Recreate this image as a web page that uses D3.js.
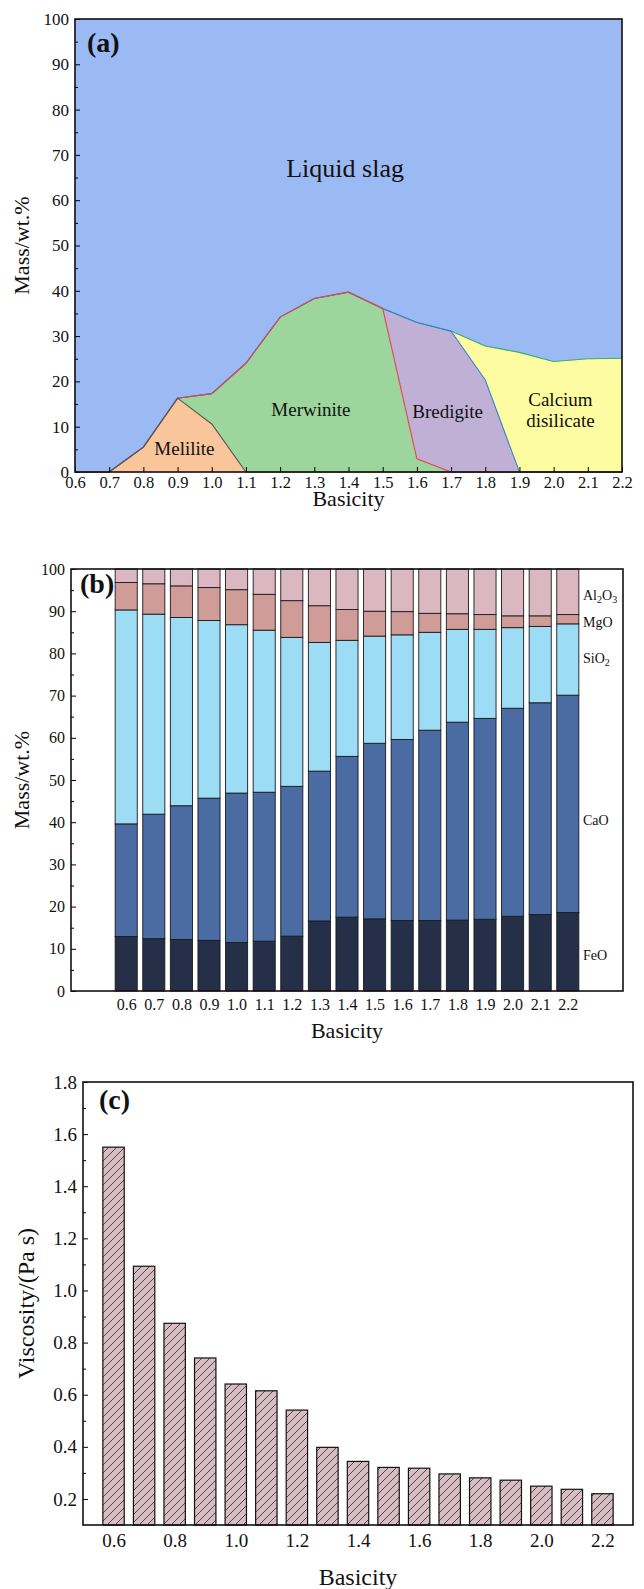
<!DOCTYPE html>
<html>
<head>
<meta charset="utf-8">
<script src="https://cdn.jsdelivr.net/npm/d3@7"></script>
<style>
  body { margin: 0; background: #fff; }
  svg { display: block; }
  svg text { font-family: "Liberation Serif", "Times New Roman", serif; }
</style>
</head>
<body>
<svg id="chart"></svg>
<script>
// ---- data ----
const basicity = [0.6, 0.7, 0.8, 0.9, 1.0, 1.1, 1.2, 1.3, 1.4, 1.5, 1.6, 1.7, 1.8, 1.9, 2.0, 2.1, 2.2];

// (a) phase amounts, wt.%
const melilite     = [0, 0, 5.5, 16.3, 10.6, 0, 0, 0, 0, 0, 0, 0, 0, 0, 0, 0, 0];
const merwinite    = [0, 0, 0, 0, 6.7, 24.0, 34.2, 38.3, 39.7, 36.1, 2.9, 0, 0, 0, 0, 0, 0];
const bredigite    = [0, 0, 0, 0, 0, 0, 0, 0, 0, 0, 30.1, 31.1, 20.3, 0, 0, 0, 0];
const caDisilicate = [0, 0, 0, 0, 0, 0, 0, 0, 0, 0, 0, 0, 7.5, 26.4, 24.4, 25.0, 25.1];
const liquidSlag   = [100, 100, 94.5, 83.7, 82.7, 76.0, 65.8, 61.7, 60.3, 63.9, 67.0, 68.9, 72.2, 73.6, 75.6, 75.0, 74.9];

// (b) liquid slag composition, wt.%
const feo   = [12.9, 12.4, 12.2, 12.0, 11.5, 11.8, 13.0, 16.6, 17.5, 17.1, 16.7, 16.7, 16.8, 17.0, 17.7, 18.1, 18.6];
const cao   = [26.7, 29.5, 31.7, 33.7, 35.4, 35.3, 35.5, 35.5, 38.1, 41.6, 42.9, 45.1, 46.9, 47.6, 49.3, 50.2, 51.5];
const sio2  = [50.7, 47.4, 44.6, 42.1, 39.9, 38.4, 35.3, 30.5, 27.5, 25.4, 24.8, 23.2, 22.0, 21.1, 19.1, 18.1, 16.9];
const mgo   = [6.5, 7.2, 7.5, 7.8, 8.3, 8.5, 8.7, 8.7, 7.3, 5.9, 5.5, 4.5, 3.7, 3.5, 2.8, 2.5, 2.2];
const al2o3 = [3.2, 3.5, 4.0, 4.4, 4.9, 6.0, 7.5, 8.7, 9.6, 10.0, 10.1, 10.5, 10.6, 10.8, 11.1, 11.1, 10.8];

// (c) viscosity, Pa s
const viscosity = [1.55, 1.093, 0.874, 0.741, 0.641, 0.615, 0.541, 0.398, 0.344, 0.321, 0.318, 0.296, 0.281, 0.272, 0.249, 0.237, 0.220];

const yTicksMass = [0, 10, 20, 30, 40, 50, 60, 70, 80, 90, 100];
const yTicksVisc = [0.2, 0.4, 0.6, 0.8, 1.0, 1.2, 1.4, 1.6, 1.8];
const xTicksVisc = [0.6, 0.8, 1.0, 1.2, 1.4, 1.6, 1.8, 2.0, 2.2];

const W = 644, H = 1589;
const SERIF = '"Liberation Serif", "Times New Roman", serif';
const svg = d3.select('#chart').attr('width', W).attr('height', H);
const fmt1 = d3.format('.1f');

function styleAxis(g, fontSize) {
    g.attr('font-family', SERIF).attr('font-size', fontSize);
    g.select('.domain').remove();
    g.selectAll('text').attr('font-size', fontSize).attr('fill', '#111');
}

function inwardLeftTicks(g, y, major, minor, fontSize, formatter) {
    g.call(d3.axisLeft(y).tickValues(major).tickSize(-5).tickPadding(6).tickFormat(formatter))
        .call(a => styleAxis(a, fontSize));
    g.append('g')
        .call(d3.axisLeft(y).tickValues(minor).tickSize(-3).tickFormat(''))
        .call(a => a.select('.domain').remove());
}

// ================= (a) stacked area phase diagram =================
function drawPhases() {
    const m = { left: 75, right: 622, top: 19, bottom: 472 };
    const x = d3.scaleLinear().domain([0.6, 2.2]).range([m.left, m.right]);
    const y = d3.scaleLinear().domain([0, 100]).range([m.bottom, m.top]);

    const keys = ['melilite', 'merwinite', 'bredigite', 'caDisilicate', 'liquid'];
    const rows = basicity.map((b, i) => ({
        b: b, melilite: melilite[i], merwinite: merwinite[i], bredigite: bredigite[i],
        caDisilicate: caDisilicate[i], liquid: liquidSlag[i]
    }));
    const fills = { melilite: '#f9c59b', merwinite: '#9dd69c', bredigite: '#c1b0d6', caDisilicate: '#fdfca0', liquid: '#9bb9f2' };
    const edges = { melilite: '#555555', merwinite: '#e8434c', bredigite: '#2f7fdc', caDisilicate: '#3aae6c' };

    const series = d3.stack().keys(keys)(rows);
    const g = svg.append('g');

    const area = d3.area().x(d => x(d.data.b)).y0(d => y(d[0])).y1(d => y(d[1]));
    g.selectAll('.phase')
        .data(series)
        .join('path')
            .attr('class', 'phase')
            .attr('d', area)
            .attr('fill', d => fills[d.key])
            .attr('stroke', d => fills[d.key])
            .attr('stroke-width', 0.5);

    // boundary lines, drawn last series first
    const line = d3.line().x(d => x(d.data.b)).y(d => y(d[1]));
    g.selectAll('.edge')
        .data(series.filter(s => edges[s.key]).reverse())
        .join('path')
            .attr('class', 'edge')
            .attr('d', line)
            .attr('fill', 'none')
            .attr('stroke', d => edges[d.key])
            .attr('stroke-width', 1.1);

    // axes
    g.append('g').attr('transform', `translate(0,${m.bottom})`)
        .call(d3.axisBottom(x).tickValues(basicity).tickSize(-5).tickPadding(4).tickFormat(fmt1))
        .call(a => styleAxis(a, 16.5));

    inwardLeftTicks(g.append('g').attr('transform', `translate(${m.left},0)`), y,
        yTicksMass, d3.range(5, 100, 10), 17, d3.format('d'));

    g.append('rect')
        .attr('x', m.left).attr('y', m.top)
        .attr('width', m.right - m.left).attr('height', m.bottom - m.top)
        .attr('fill', 'none').attr('stroke', '#111').attr('stroke-width', 1.6);

    // region labels
    const labels = [
        { t: ['Liquid slag'], b: 1.39, v: 67, size: 26 },
        { t: ['Melilite'], b: 0.92, v: 5.3, size: 19 },
        { t: ['Merwinite'], b: 1.29, v: 13.9, size: 19 },
        { t: ['Bredigite'], b: 1.69, v: 13.5, size: 19 },
        { t: ['Calcium', 'disilicate'], b: 2.02, v: 16.2, size: 19 }
    ];
    labels.forEach(l => {
        const txt = g.append('text')
            .attr('x', x(l.b)).attr('y', y(l.v))
            .attr('text-anchor', 'middle')
            .attr('dominant-baseline', 'central')
            .attr('font-size', l.size)
            .attr('fill', '#111');
        l.t.forEach((s, i) => txt.append('tspan').attr('x', x(l.b)).attr('dy', i === 0 ? 0 : '1.1em').text(s));
    });

    g.append('text').attr('x', 87).attr('y', 52)
        .attr('font-size', 28).attr('font-weight', 'bold').attr('fill', '#111').text('(a)');

    g.append('text').attr('x', (m.left + m.right) / 2).attr('y', 506)
        .attr('text-anchor', 'middle').attr('font-size', 22).attr('fill', '#111').text('Basicity');
    g.append('text')
        .attr('transform', `translate(29,${(m.top + m.bottom) / 2}) rotate(-90)`)
        .attr('text-anchor', 'middle').attr('font-size', 22).attr('fill', '#111').text('Mass/wt.%');
}

// ================= (b) stacked composition bars =================
function drawComposition() {
    const m = { left: 71, right: 623, top: 569, bottom: 991 };
    const x = d3.scaleLinear().domain([0.4, 2.4]).range([m.left, m.right]);
    const y = d3.scaleLinear().domain([0, 100]).range([m.bottom, m.top]);
    const bw = x(0.48) - x(0.4);

    const keys = ['FeO', 'CaO', 'SiO2', 'MgO', 'Al2O3'];
    const rows = basicity.map((b, i) => ({ b: b, FeO: feo[i], CaO: cao[i], SiO2: sio2[i], MgO: mgo[i], Al2O3: al2o3[i] }));
    const colors = { FeO: '#252f48', CaO: '#4a6ca2', SiO2: '#9cdcf5', MgO: '#cf9c98', Al2O3: '#dbb8c1' };
    const series = d3.stack().keys(keys)(rows);

    const g = svg.append('g');
    g.selectAll('.layer')
        .data(series)
        .join('g')
            .attr('class', 'layer')
            .attr('fill', d => colors[d.key])
        .selectAll('rect')
        .data(d => d)
        .join('rect')
            .attr('x', d => x(d.data.b) - bw / 2)
            .attr('y', d => y(d[1]))
            .attr('width', bw)
            .attr('height', d => y(d[0]) - y(d[1]))
            .attr('stroke', '#1a1a1a')
            .attr('stroke-width', 0.9);

    g.append('g').attr('transform', `translate(0,${m.bottom})`)
        .call(d3.axisBottom(x).tickValues(basicity).tickSize(0).tickPadding(8).tickFormat(fmt1))
        .call(a => styleAxis(a, 16));

    inwardLeftTicks(g.append('g').attr('transform', `translate(${m.left},0)`), y,
        yTicksMass, d3.range(5, 100, 10), 16, d3.format('d'));

    g.append('rect')
        .attr('x', m.left).attr('y', m.top)
        .attr('width', m.right - m.left).attr('height', m.bottom - m.top)
        .attr('fill', 'none').attr('stroke', '#111').attr('stroke-width', 1.6);

    // component labels at the right
    const compLabels = [
        { main: ['Al', 'O'], sub: ['2', '3'], v: 93.8 },
        { main: ['MgO'], sub: [], v: 87.5 },
        { main: ['SiO'], sub: ['2'], v: 78.8 },
        { main: ['CaO'], sub: [], v: 40.5 },
        { main: ['FeO'], sub: [], v: 8.5 }
    ];
    compLabels.forEach(c => {
        const t = g.append('text').attr('x', 583).attr('y', y(c.v))
            .attr('dominant-baseline', 'central').attr('font-size', 14).attr('fill', '#111');
        c.main.forEach((s, i) => {
            t.append('tspan').attr('dy', i === 0 ? 0 : -4).text(s);
            if (c.sub[i]) t.append('tspan').attr('dy', 4).attr('font-size', 10).text(c.sub[i]);
        });
    });

    g.append('text').attr('x', 80).attr('y', 593)
        .attr('font-size', 28).attr('font-weight', 'bold').attr('fill', '#111').text('(b)');

    g.append('text').attr('x', (m.left + m.right) / 2).attr('y', 1038)
        .attr('text-anchor', 'middle').attr('font-size', 22).attr('fill', '#111').text('Basicity');
    g.append('text')
        .attr('transform', `translate(29,${(m.top + m.bottom) / 2}) rotate(-90)`)
        .attr('text-anchor', 'middle').attr('font-size', 22).attr('fill', '#111').text('Mass/wt.%');
}

// ================= (c) viscosity bars =================
function drawViscosity() {
    const m = { left: 83, right: 633, top: 1082, bottom: 1525 };
    const x = d3.scaleLinear().domain([0.5, 2.3]).range([m.left, m.right]);
    const y = d3.scaleLinear().domain([0.1, 1.8]).range([m.bottom, m.top]);
    const bw = x(0.57) - x(0.5);

    const defs = svg.append('defs');
    const pat = defs.append('pattern')
        .attr('id', 'hatch')
        .attr('patternUnits', 'userSpaceOnUse')
        .attr('width', 8).attr('height', 8);
    pat.append('rect').attr('width', 8).attr('height', 8).attr('fill', '#d8bcc4');
    pat.append('path')
        .attr('d', 'M0,8 L8,0 M-2,2 L2,-2 M6,10 L10,6')
        .attr('stroke', '#2a2a2a').attr('stroke-width', 0.8);

    const g = svg.append('g');
    const rows = basicity.map((b, i) => ({ b: b, v: viscosity[i] }));
    g.selectAll('.vbar')
        .data(rows)
        .join('rect')
            .attr('class', 'vbar')
            .attr('x', d => x(d.b) - bw / 2)
            .attr('y', d => y(d.v))
            .attr('width', bw)
            .attr('height', d => m.bottom - y(d.v))
            .attr('fill', 'url(#hatch)')
            .attr('stroke', '#111')
            .attr('stroke-width', 1.2);

    g.append('g').attr('transform', `translate(0,${m.bottom})`)
        .call(d3.axisBottom(x).tickValues(xTicksVisc).tickSize(0).tickPadding(9).tickFormat(fmt1))
        .call(a => styleAxis(a, 19));

    inwardLeftTicks(g.append('g').attr('transform', `translate(${m.left},0)`), y,
        yTicksVisc, [0.3, 0.5, 0.7, 0.9, 1.1, 1.3, 1.5, 1.7], 19, fmt1);

    g.append('rect')
        .attr('x', m.left).attr('y', m.top)
        .attr('width', m.right - m.left).attr('height', m.bottom - m.top)
        .attr('fill', 'none').attr('stroke', '#111').attr('stroke-width', 1.6);

    g.append('text').attr('x', 99).attr('y', 1109)
        .attr('font-size', 28).attr('font-weight', 'bold').attr('fill', '#111').text('(c)');

    g.append('text').attr('x', (m.left + m.right) / 2).attr('y', 1585)
        .attr('text-anchor', 'middle').attr('font-size', 24).attr('fill', '#111').text('Basicity');
    g.append('text')
        .attr('transform', `translate(34,${(m.top + m.bottom) / 2}) rotate(-90)`)
        .attr('text-anchor', 'middle').attr('font-size', 24).attr('fill', '#111').text('Viscosity/(Pa s)');
}

drawPhases();
drawComposition();
drawViscosity();
</script>
</body>
</html>
